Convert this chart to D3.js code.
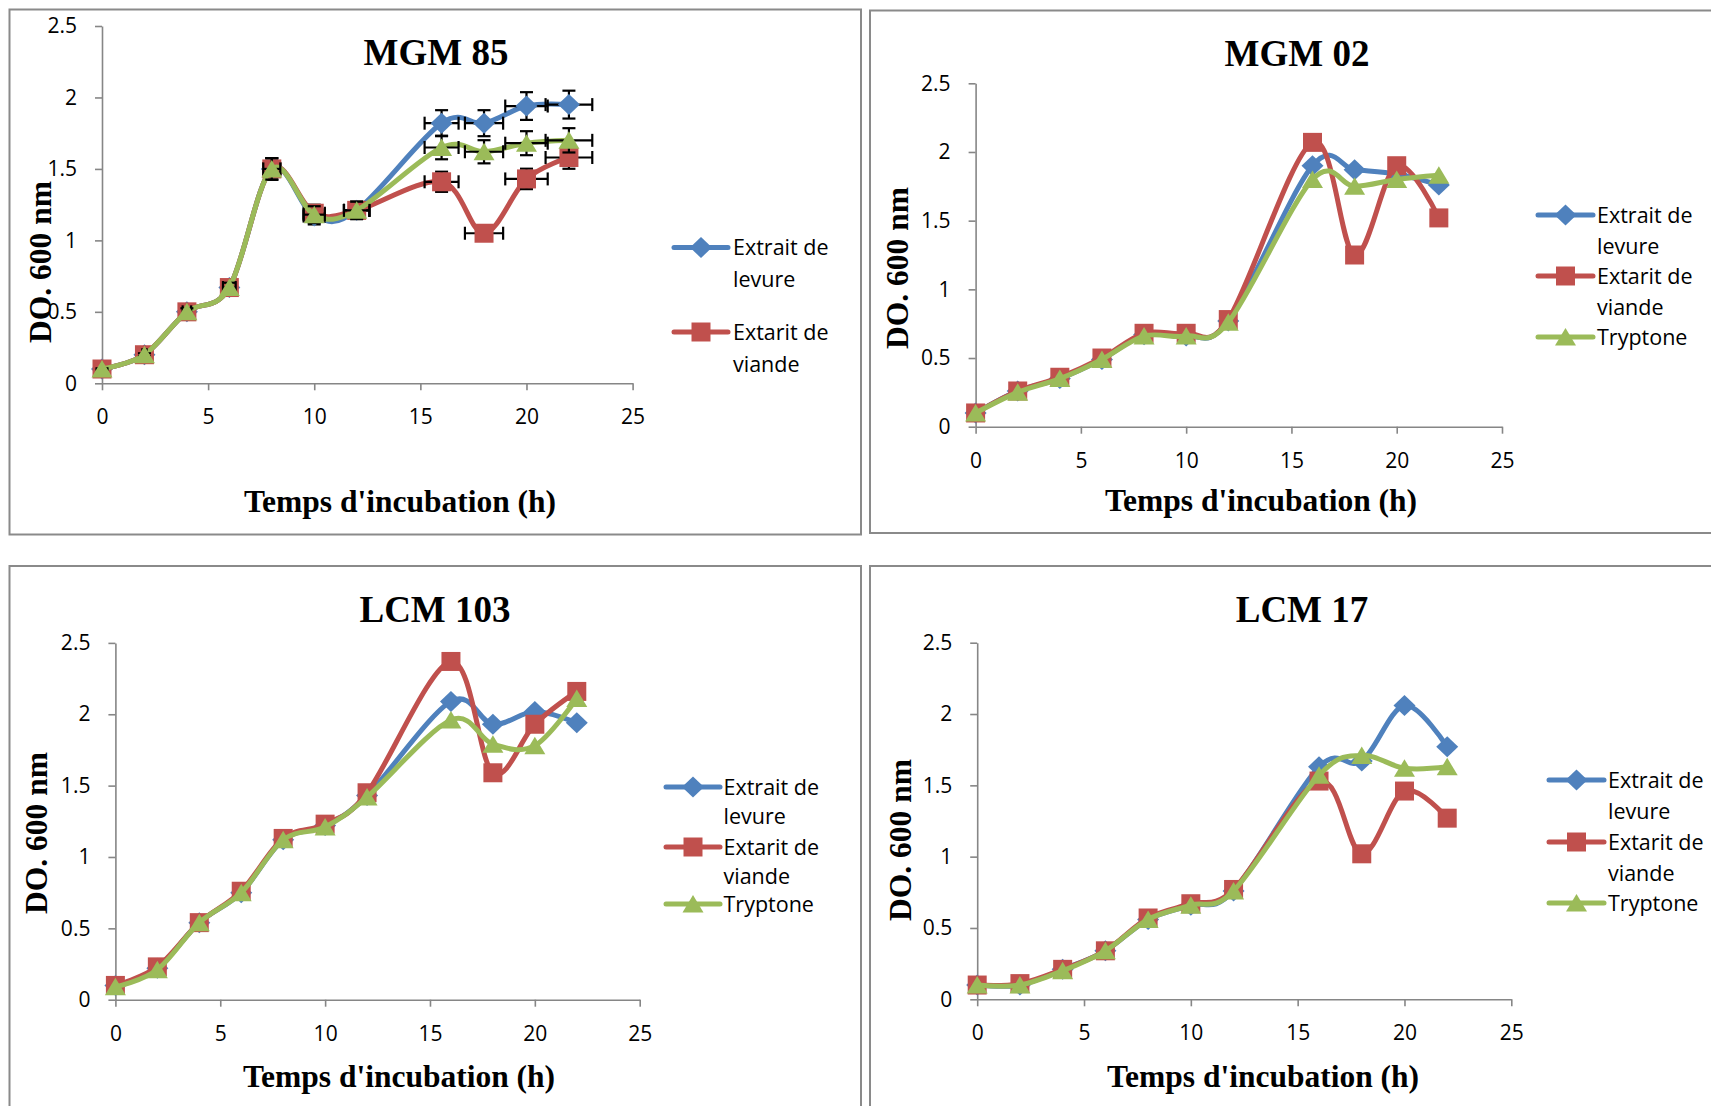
<!DOCTYPE html>
<html><head><meta charset="utf-8">
<script src="https://cdn.jsdelivr.net/npm/d3@7"></script>
<style>body{margin:0;background:#fff}svg{display:block}</style>
</head><body>
<svg id="c" width="1711" height="1106"></svg>
<script>
// ---------- DATA ----------
const hours = [0, 2, 4, 6, 8, 10, 12, 16, 18, 20, 22];
const seriesNames = ["Extrait de levure", "Extarit de viande", "Tryptone"];
const legendLines = [["Extrait de", "levure"], ["Extarit de", "viande"], ["Tryptone"]];
const panelTitles = ["MGM 85", "MGM 02", "LCM 103", "LCM 17"];
const xTicks = [0, 5, 10, 15, 20, 25];
const yTicks = [0, 0.5, 1, 1.5, 2, 2.5];
const yTickLabels = ["0", "0.5", "1", "1.5", "2", "2.5"];
const xAxisTitle = "Temps d'incubation (h)";
const yAxisTitle = "DO. 600 nm";
const errorPercent = 5; // percentage error bars (MGM 85 only)

const mgm85Levure   = [0.10, 0.20, 0.50, 0.67, 1.50, 1.17, 1.21, 1.82, 1.82, 1.94, 1.95];
const mgm85Viande   = [0.10, 0.20, 0.50, 0.67, 1.50, 1.19, 1.21, 1.41, 1.05, 1.43, 1.58];
const mgm85Tryptone = [0.10, 0.20, 0.50, 0.67, 1.50, 1.18, 1.21, 1.65, 1.62, 1.68, 1.70];

const mgm02Levure   = [0.10, 0.26, 0.35, 0.49, 0.67, 0.66, 0.77, 1.90, 1.87, 1.84, 1.76];
const mgm02Viande   = [0.10, 0.26, 0.36, 0.50, 0.68, 0.68, 0.78, 2.07, 1.25, 1.90, 1.52];
const mgm02Tryptone = [0.10, 0.25, 0.35, 0.49, 0.66, 0.66, 0.76, 1.80, 1.75, 1.80, 1.83];

const lcm103Levure   = [0.10, 0.22, 0.54, 0.75, 1.12, 1.22, 1.43, 2.09, 1.93, 2.02, 1.94];
const lcm103Viande   = [0.10, 0.23, 0.54, 0.76, 1.13, 1.23, 1.45, 2.37, 1.59, 1.93, 2.16];
const lcm103Tryptone = [0.09, 0.21, 0.54, 0.75, 1.12, 1.21, 1.42, 1.96, 1.79, 1.78, 2.11];

const lcm17Levure   = [0.10, 0.10, 0.21, 0.34, 0.56, 0.66, 0.76, 1.63, 1.67, 2.06, 1.77];
const lcm17Viande   = [0.10, 0.11, 0.21, 0.34, 0.57, 0.67, 0.77, 1.53, 1.02, 1.46, 1.27];
const lcm17Tryptone = [0.10, 0.10, 0.20, 0.34, 0.56, 0.66, 0.76, 1.57, 1.71, 1.62, 1.63];

// ---------- STYLE / LAYOUT ----------
const colors = ["#4F81BD", "#C0504D", "#9BBB59"];
const markerKinds = ["diamond", "square", "triangle"];
const gridGray = "#868686";

const panels = [
  { title: panelTitles[0], series: [mgm85Levure, mgm85Viande, mgm85Tryptone], legendIdx: [0, 1], errorBars: true,
    frame: [9.5, 9.5, 861, 534.5], xr: [102, 632.6], yr: [383.3, 26],
    titlePos: [436, 65], xTitlePos: [400, 512], yTitlePos: [51, 262],
    legend: { x1: 674, x2: 728, tx: 733, rows: [247.5, 332], gap: 32 } },
  { title: panelTitles[1], series: [mgm02Levure, mgm02Viande, mgm02Tryptone], legendIdx: [0, 1, 2], errorBars: false,
    frame: [870, 10.5, 1725, 533], xr: [975.6, 1502], yr: [426.7, 83.3],
    titlePos: [1297, 66], xTitlePos: [1261, 511], yTitlePos: [908, 268],
    legend: { x1: 1538, x2: 1593, tx: 1597, rows: [215, 276, 337], gap: 31 } },
  { title: panelTitles[2], series: [lcm103Levure, lcm103Viande, lcm103Tryptone], legendIdx: [0, 1, 2], errorBars: false,
    frame: [9.5, 566, 861, 1120], xr: [115.4, 639.7], yr: [999.7, 642.9],
    titlePos: [435, 622], xTitlePos: [399, 1087], yTitlePos: [47, 833],
    legend: { x1: 666, x2: 720, tx: 723.5, rows: [787, 847, 904], gap: 29.5 } },
  { title: panelTitles[3], series: [lcm17Levure, lcm17Viande, lcm17Tryptone], legendIdx: [0, 1, 2], errorBars: false,
    frame: [870, 566, 1725, 1120], xr: [977.2, 1511.3], yr: [999.3, 642.7],
    titlePos: [1302, 622], xTitlePos: [1263, 1087], yTitlePos: [911, 840],
    legend: { x1: 1549, x2: 1604, tx: 1608, rows: [780, 842, 903], gap: 31 } }
];

const svg = d3.select("#c");
svg.append("rect").attr("width", 1711).attr("height", 1106).attr("fill", "#fff");

function markerPath(kind) {
  if (kind === "diamond") return "M0,-10.5L11,0L0,10.5L-11,0Z";
  if (kind === "square") return "M-9.5,-9.5H9.5V9.5H-9.5Z";
  return "M0,-9L10.5,8.5L-10.5,8.5Z";
}

panels.forEach(p => {
  const g = svg.append("g");
  const [fx1, fy1, fx2, fy2] = p.frame;
  g.append("rect").attr("x", fx1).attr("y", fy1).attr("width", fx2 - fx1).attr("height", fy2 - fy1)
    .attr("fill", "none").attr("stroke", "#8a8a8a").attr("stroke-width", 2);

  const x = d3.scaleLinear().domain([0, 25]).range(p.xr);
  const y = d3.scaleLinear().domain([0, 2.5]).range(p.yr);

  // axes
  const ya = g.append("g").attr("transform", `translate(${p.xr[0]},0)`)
    .call(d3.axisLeft(y).tickValues(yTicks).tickSize(7).tickSizeOuter(0).tickPadding(18)
      .tickFormat((d, i) => yTickLabels[i]));
  const xa = g.append("g").attr("transform", `translate(0,${p.yr[0]})`)
    .call(d3.axisBottom(x).tickValues(xTicks).tickSize(7).tickSizeOuter(0).tickPadding(19)
      .tickFormat(d3.format("d")));
  [ya, xa].forEach(a => {
    a.selectAll("path.domain").attr("stroke", gridGray).attr("stroke-width", 1.6);
    a.selectAll(".tick line").attr("stroke", gridGray).attr("stroke-width", 1.6);
    a.selectAll(".tick text").attr("fill", "#000").style("font-family", "'Open Sans', sans-serif").style("font-size", "21px");
  });

  // titles
  g.append("text").attr("x", p.titlePos[0]).attr("y", p.titlePos[1]).attr("text-anchor", "middle")
    .style("font-family", "'Liberation Serif', 'Times New Roman', serif").style("font-weight", "bold")
    .style("font-size", "37px").text(p.title);
  g.append("text").attr("x", p.xTitlePos[0]).attr("y", p.xTitlePos[1]).attr("text-anchor", "middle")
    .style("font-family", "'Liberation Serif', 'Times New Roman', serif").style("font-weight", "bold")
    .style("font-size", "31.5px").text(xAxisTitle);
  g.append("text").attr("transform", `translate(${p.yTitlePos[0]},${p.yTitlePos[1]}) rotate(-90)`)
    .attr("text-anchor", "middle")
    .style("font-family", "'Liberation Serif', 'Times New Roman', serif").style("font-weight", "bold")
    .style("font-size", "31.5px").text(yAxisTitle);

  const line = d3.line().x((d, i) => x(hours[i])).y(d => y(d)).curve(d3.curveCardinal.tension(0));

  p.series.forEach((vals, si) => {
    const sg = g.append("g");
    sg.append("path").attr("d", line(vals)).attr("fill", "none").attr("stroke", colors[si])
      .attr("stroke-width", 5).attr("stroke-linejoin", "round").attr("stroke-linecap", "round");
    if (p.errorBars) {
      const eg = sg.append("g").attr("stroke", "#000").attr("stroke-width", 2.2);
      vals.forEach((v, i) => {
        const h = hours[i];
        const dx = h * errorPercent / 100, dy = v * errorPercent / 100;
        const cx = x(h), cy = y(v), cap = 6.5;
        const xl = x(h - dx), xr2 = x(h + dx), yt = y(v + dy), yb = y(v - dy);
        eg.append("line").attr("x1", xl).attr("x2", xr2).attr("y1", cy).attr("y2", cy);
        eg.append("line").attr("x1", xl).attr("x2", xl).attr("y1", cy - cap).attr("y2", cy + cap);
        eg.append("line").attr("x1", xr2).attr("x2", xr2).attr("y1", cy - cap).attr("y2", cy + cap);
        eg.append("line").attr("x1", cx).attr("x2", cx).attr("y1", yt).attr("y2", yb);
        eg.append("line").attr("x1", cx - cap).attr("x2", cx + cap).attr("y1", yt).attr("y2", yt);
        eg.append("line").attr("x1", cx - cap).attr("x2", cx + cap).attr("y1", yb).attr("y2", yb);
      });
    }
    sg.selectAll("path.mk").data(vals).enter().append("path").attr("class", "mk")
      .attr("d", markerPath(markerKinds[si]))
      .attr("transform", (d, i) => `translate(${x(hours[i])},${y(d)})`)
      .attr("fill", colors[si]);
  });

  // legend
  const L = p.legend;
  p.legendIdx.forEach((si, k) => {
    const ly = L.rows[k];
    g.append("line").attr("x1", L.x1).attr("x2", L.x2).attr("y1", ly).attr("y2", ly)
      .attr("stroke", colors[si]).attr("stroke-width", 5).attr("stroke-linecap", "round");
    g.append("path").attr("d", markerPath(markerKinds[si]))
      .attr("transform", `translate(${(L.x1 + L.x2) / 2},${ly})`).attr("fill", colors[si]);
    legendLines[si].forEach((t, j) => {
      g.append("text").attr("x", L.tx).attr("y", ly + j * L.gap).attr("dy", "0.35em")
        .style("font-family", "'Open Sans', sans-serif").style("font-size", "21.5px").text(t);
    });
  });
});
</script>
</body></html>
